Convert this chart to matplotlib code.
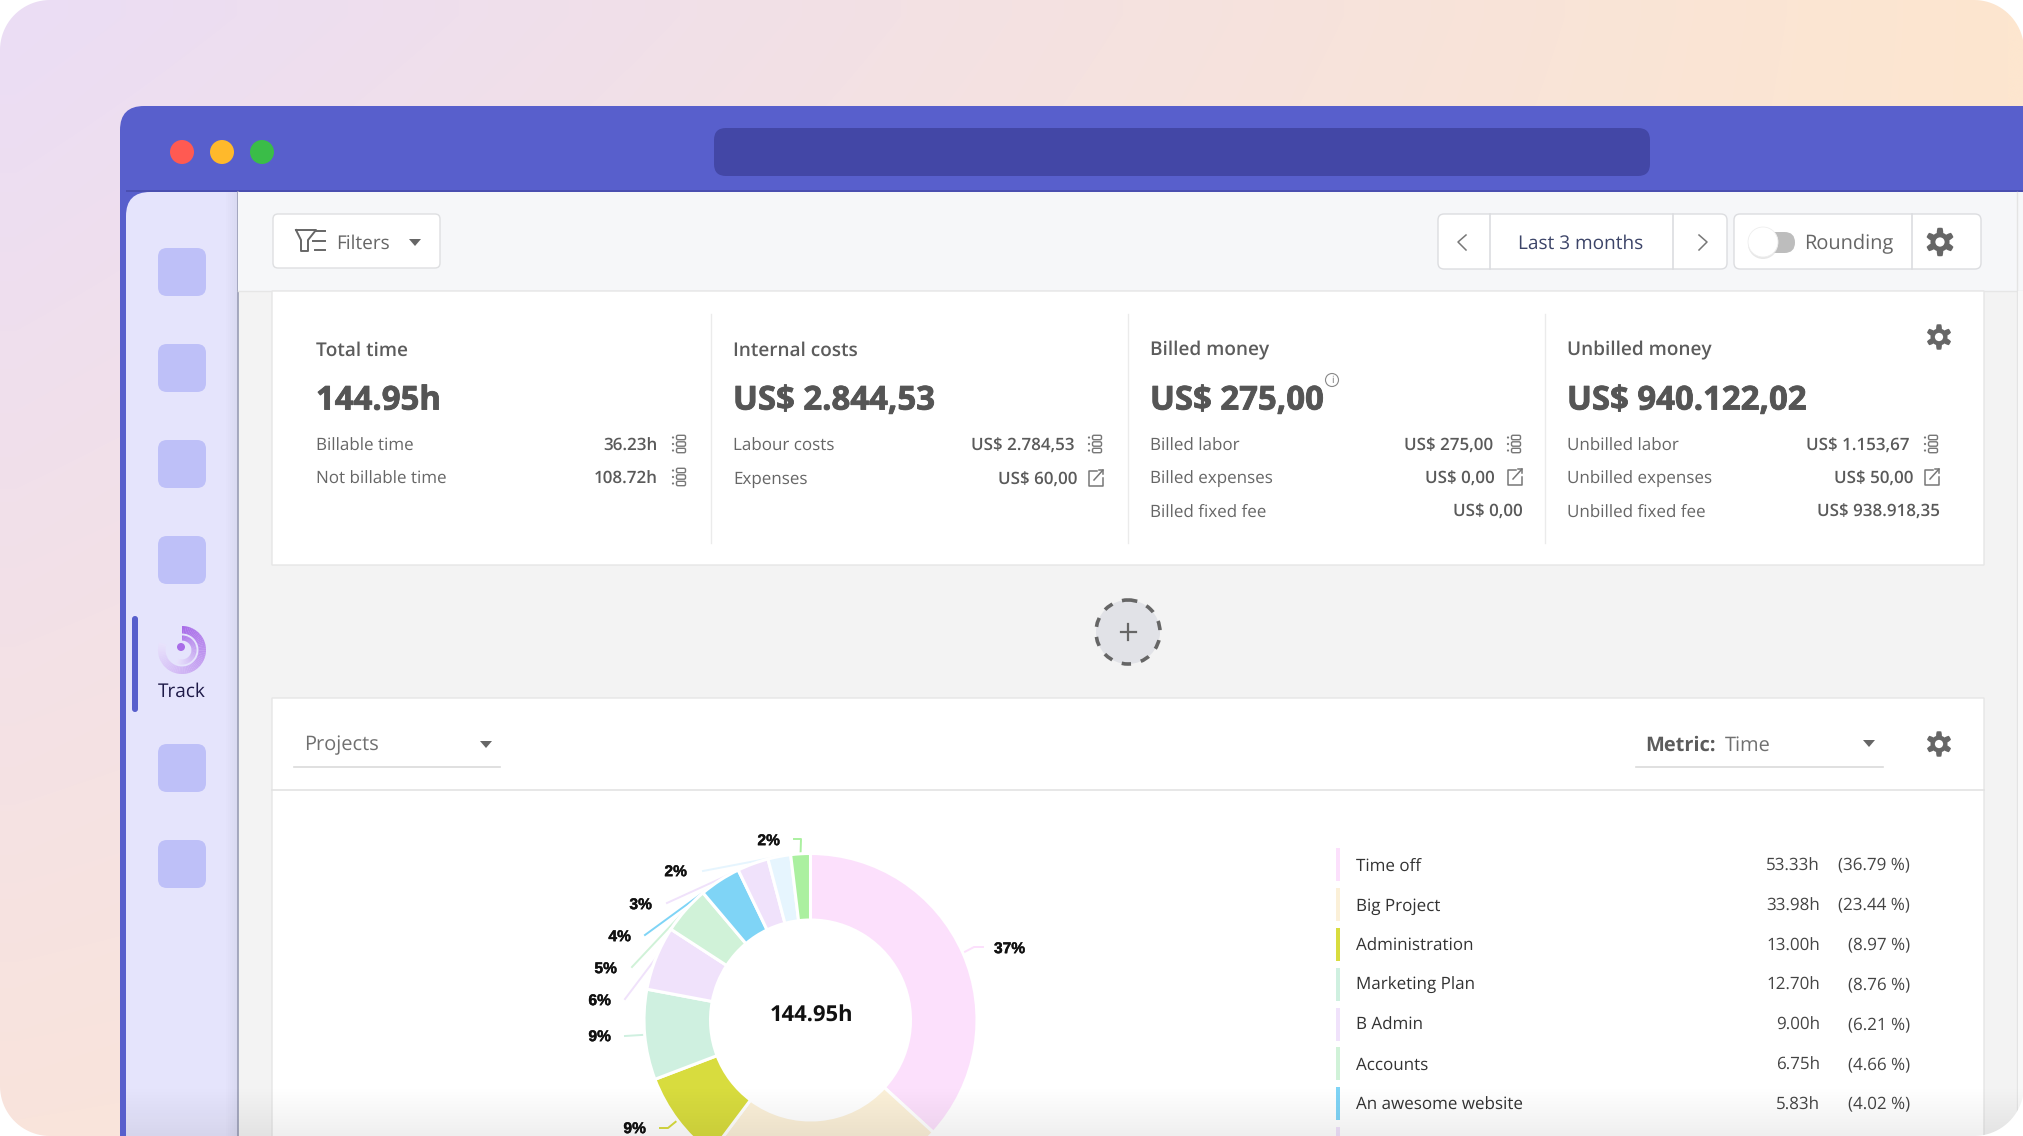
import numpy as np
import matplotlib
matplotlib.use("Agg")
import matplotlib.pyplot as plt
import matplotlib.patheffects as pe
from matplotlib.patches import FancyBboxPatch, Circle, Rectangle, Polygon, Wedge
from matplotlib.colors import to_rgb

W, H = 2024, 1136

# chart data
projects = ["Time off", "Big Project", "Administration", "Marketing Plan", "B Admin",
            "Accounts", "An awesome website", "Website", "Research", "Design"]
hours = [53.33, 33.98, 13.00, 12.70, 9.00, 6.75, 5.83, 4.40, 3.20, 2.76]
hour_labels = ["53.33h", "33.98h", "13.00h", "12.70h", "9.00h", "6.75h", "5.83h"]
pct_labels = ["(36.79 %)", "(23.44 %)", "(8.97 %)", "(8.76 %)", "(6.21 %)", "(4.66 %)", "(4.02 %)"]
slice_colors = ["#FCE0FC", "#FBF0D8", "#D8DC3E", "#CFF0E0", "#F0E2FB",
                "#D0F2D8", "#7FD4F6", "#F0E2FB", "#E6F5FE", "#ABF0A0"]
slice_pct = ["37%", "23%", "9%", "9%", "6%", "5%", "4%", "3%", "2%", "2%"]
total = "144.95h"

# KPI cards
card_titles = ["Total time", "Internal costs", "Billed money", "Unbilled money"]
card_totals = ["144.95h", "US$ 2.844,53", "US$ 275,00", "US$ 940.122,02"]
card_names = [["Billable time", "Not billable time"],
              ["Labour costs", "Expenses"],
              ["Billed labor", "Billed expenses", "Billed fixed fee"],
              ["Unbilled labor", "Unbilled expenses", "Unbilled fixed fee"]]
card_values = [["36.23h", "108.72h"],
               ["US$ 2.784,53", "US$ 60,00"],
               ["US$ 275,00", "US$ 0,00", "US$ 0,00"],
               ["US$ 1.153,67", "US$ 50,00", "US$ 938.918,35"]]

# layout of the pie labels and their leader lines, in pixels
label_xy = [(1010, 949), None, (635, 1129), (600, 1037), (600, 1001),
            (606, 969), (620, 937), (641, 905), (676, 872), (769, 841)]
leader_pts = [[(974, 947), (983, 947)], None, [(668, 1128), (660, 1128)], [(625, 1036)],
              [(625, 999)], [(632, 967)], [(645, 935)], [(667, 903)], [(703, 871)],
              [(801, 839), (794, 839)]]

plt.rcParams["font.family"] = ["Open Sans", "DejaVu Sans"]
plt.rcParams["text.hinting"] = "none"
plt.rcParams["text.hinting_factor"] = 1
fig = plt.figure(figsize=(W / 100, H / 100), dpi=100)
ax = fig.add_axes([0, 0, 1, 1])


def box(x0, y0, x1, y1, fc, ec="none", r=0, lw=1.0, z=1):
    p = FancyBboxPatch((x0, y0), x1 - x0, y1 - y0, boxstyle="round,pad=0,rounding_size=%g" % r,
                       fc=fc, ec=ec, lw=lw, zorder=z)
    ax.add_patch(p)
    return p


def txt(x, y, s, size=13, color="#666666", ha="left", weight="normal", z=5, thick=0):
    t = ax.text(x, y + 2, s, fontsize=size, color=color, ha=ha, va="center", weight=weight, zorder=z)
    if thick:
        t.set_path_effects([pe.withStroke(linewidth=thick, foreground=color)])


def gear(cx, cy, R, color="#666666", hole="white", z=5):
    a = np.linspace(0, 2 * np.pi, 181)
    r = R * (0.85 + 0.17 * np.clip(2.0 * np.cos(6 * (a + np.pi / 2)), -1, 1))
    ax.add_patch(Polygon(np.c_[cx + r * np.cos(a), cy + r * np.sin(a)], fc=color, ec="none", zorder=z))
    ax.add_patch(Circle((cx, cy), R * 0.33, fc=hole, ec="none", zorder=z + 0.1))


def caret(cx, cy, color="#666666"):
    ax.add_patch(Polygon([(cx - 6, cy - 3), (cx + 6, cy - 3), (cx, cy + 4)], fc=color, ec="none", zorder=5))


def list_icon(cx, cy):
    # three dots and three small pills
    cx = cx - 1.5
    for dy in (-6.5, 0, 6.5):
        ax.add_patch(Circle((cx - 5.5, cy + dy), 1.1, fc="#777777", ec="none", zorder=5))
        box(cx - 2, cy + dy - 2.2, cx + 7, cy + dy + 2.2, "white", "#777777", 1.5, 1.0, 5)


def link_icon(cx, cy):
    ax.plot([cx + 1, cx - 7, cx - 7, cx + 7, cx + 7], [cy - 7, cy - 7, cy + 8, cy + 8, cy],
            color="#777777", lw=1.1, zorder=5)
    ax.plot([cx - 2, cx + 7], [cy + 2, cy - 8], color="#777777", lw=1.1, zorder=5)
    ax.plot([cx + 3, cx + 7, cx + 7], [cy - 8, cy - 8, cy - 4], color="#777777", lw=1.1, zorder=5)


# page background
tl, tr, bl, br = [np.array(to_rgb(c)) for c in ("#EBDDF5", "#FDE6CF", "#F9E4DC", "#FDE6CF")]
u, v = np.meshgrid(np.linspace(0, 1, 64), np.linspace(0, 1, 36))
grad = ((1 - u) * (1 - v))[..., None] * tl + (u * (1 - v))[..., None] * tr \
    + ((1 - u) * v)[..., None] * bl + (u * v)[..., None] * br
ax.imshow(grad, extent=(0, W, H, 0), aspect="auto", interpolation="bilinear", zorder=0)

# browser window
box(120, 106, W + 100, H + 100, "#585FCC", r=24, z=1)
ax.add_patch(Rectangle((126, 190), W, 2, fc="#4A4FB0", ec="none", zorder=1.1))
for x, c in zip((182, 222, 262), ("#FF5A52", "#FFB92B", "#3ABD48")):
    ax.add_patch(Circle((x, 152), 12, fc=c, ec="none", zorder=2))
box(714, 128, 1650, 176, "#4347A6", r=12, z=2)

# sidebar
box(126, 192, 300, H + 100, "#E5E4FC", r=24, z=2)
ax.add_patch(Rectangle((238, 192), W, H, fc="#F3F3F3", ec="none", zorder=2.1))
for i, x in enumerate(np.arange(226, 238, 2)):
    ax.add_patch(Rectangle((x, 192), 2, H, fc="#8A8CA8", alpha=0.02 + 0.02 * i, ec="none", zorder=2.1))
ax.plot([238, 238], [192, H], color="#9A9DB5", lw=1.2, zorder=2.2)
for y in (248, 344, 440, 536, 744, 840):
    box(158, y, 206, y + 48, "#BEC0F8", r=9, z=3)
box(132, 616, 138, 712, "#585FCC", r=3, z=3)

# track icon, rings fade along their length
for i in range(60):
    f = i / 60
    c = np.array(to_rgb("#A96DE8")) * (1 - f) + np.array(to_rgb("#E9E4FC")) * f
    ax.add_patch(Wedge((182, 650), 24, -90 + 4.8 * i, -90 + 4.8 * (i + 1) + 0.5, width=7.5, fc=c, ec="none", zorder=3))
    ax.add_patch(Wedge((182, 650), 14.5, -90 + 3.4 * i, -90 + 3.4 * (i + 1) + 0.5, width=5, fc=c, ec="none", zorder=3))
ax.add_patch(Circle((181, 647), 4, fc="#A96DE8", ec="none", zorder=3.1))
txt(182, 690, "Track", 13.6, "#1E1A48", ha="center", z=3)

# toolbar
ax.add_patch(Rectangle((238, 192), W, 99, fc="#F6F7F9", ec="none", zorder=2.3))
ax.plot([238, W], [291, 291], color="#E6E6E6", lw=1, zorder=2.4)
ax.plot([2017, 2017], [192, H], color="#E4E4E4", lw=1, zorder=2.4)
ax.add_patch(Rectangle((2018, 291), 10, H, fc="#F8F8F8", ec="none", zorder=2.4))
box(273, 214, 440, 268, "white", "#DEDFE1", r=5, z=3)
ax.plot([296, 316, 308, 308, 301, 301, 296], [230, 230, 240, 251, 251, 240, 230], color="#666666", lw=1.4, zorder=5)
for x0, y in ((315, 231), (313, 241), (315, 250)):
    ax.plot([x0, 325], [y, y], color="#666666", lw=1.4, zorder=5)
txt(336, 241.5, "Filters", 14, "#666666")
caret(415, 242)

box(1438, 214, 1727, 269, "white", "#DCDDE0", r=6, z=3)
ax.plot([1490, 1490], [214, 269], color="#DCDDE0", lw=1.2, zorder=4)
ax.plot([1673, 1673], [214, 269], color="#DCDDE0", lw=1.2, zorder=4)
ax.plot([1466, 1458, 1466], [235, 242, 250], color="#777777", lw=1.1, zorder=5)
ax.plot([1699, 1707, 1699], [235, 242, 250], color="#777777", lw=1.1, zorder=5)
txt(1581, 241.5, "Last 3 months", 13.8, "#3C4468", ha="center")
box(1734, 214, 1981, 269, "white", "#DCDDE0", r=6, z=3)
ax.plot([1912, 1912], [214, 269], color="#DCDDE0", lw=1.2, zorder=4)
box(1755, 232, 1795, 253, "#BDBDBD", r=10.5, z=4)
ax.add_patch(Circle((1763, 244), 15, fc="#DDDDDD", ec="none", alpha=0.7, zorder=4.1))
ax.add_patch(Circle((1763, 242), 15, fc="white", ec="#EEEEEE", lw=0.6, zorder=4.2))
txt(1804, 241.5, "Rounding", 14.1, "#666666")
gear(1940, 242, 14)

# KPI card
box(272, 291, 1984, 565, "white", "#E6E6E6", z=3)
card_x = [316, 733, 1150, 1567]
value_right = [[658, 658], [1075, 1077], [1493, 1495, 1523], [1910, 1913, 1940]]
icon_x = [680, 1096, 1515, 1932]
row_y = [[444, 477], [444, 478], [444, 477, 510], [444, 477, 510]]
icons = [["l", "l"], ["l", "e"], ["l", "e", None], ["l", "e", None]]
for x in (711, 1128, 1545):
    ax.plot([x, x], [314, 543], color="#EBEBEB", lw=1, zorder=4)
for i in range(4):
    txt(card_x[i], 349, card_titles[i], 13.6, "#5C5C5C", weight="semibold")
    txt(card_x[i], 399, card_totals[i], 23.7, "#555555", weight="bold", thick=0.6)
    for j in range(len(card_names[i])):
        txt(card_x[i], row_y[i][j], card_names[i][j], 12.0, "#666666")
        txt(value_right[i][j], row_y[i][j], card_values[i][j], 12.1, "#5A5A5A", ha="right", weight="semibold")
        if icons[i][j] == "l":
            list_icon(icon_x[i], row_y[i][j])
        elif icons[i][j] == "e":
            link_icon(icon_x[i], row_y[i][j])
ax.add_patch(Circle((1332, 380), 6.5, fc="white", ec="#888888", lw=0.8, zorder=5))
ax.text(1332, 380, "i", fontsize=7, color="#777777", ha="center", va="center", zorder=5.1)
gear(1939, 337, 12.5)

# add widget button
ax.add_patch(Circle((1128, 632), 32, fc="#E1E2E7", ec="#666666", lw=2.6, ls=(0, (2.6, 2.8)), zorder=3))
ax.plot([1121, 1136], [632, 632], color="#666666", lw=1.6, zorder=4)
ax.plot([1128.5, 1128.5], [624, 640], color="#666666", lw=1.6, zorder=4)

# projects card
box(272, 698, 1984, H + 50, "white", "#E6E6E6", z=3)
ax.plot([272, 1984], [789.5, 789.5], color="#E3E3E3", lw=1.2, zorder=4)
txt(304, 743.5, "Projects", 14.2, "#707070")
ax.plot([294, 500], [767, 767], color="#DADADA", lw=1.2, zorder=4)
caret(486, 744)
txt(1645, 743.5, "Metric:", 14.2, "#5C5C5C", weight="bold")
txt(1725, 743.5, "Time", 14.2, "#707070")
ax.plot([1636, 1883], [767, 767], color="#DADADA", lw=1.2, zorder=4)
caret(1869, 743)
gear(1939, 744, 12.5)

# donut
cx, cy, R = 810.5, 1020, 166.5
wedges, _ = ax.pie(hours, colors=slice_colors, center=(cx, cy), radius=R, startangle=-90,
                   counterclock=True, frame=True,
                   wedgeprops=dict(width=66.5, edgecolor="white", linewidth=2.2, zorder=4))
for w in wedges:
    w.set_zorder(4)
for k, w in enumerate(wedges):
    if label_xy[k] is None:
        continue
    a = np.deg2rad((w.theta1 + w.theta2) / 2)
    xs = [cx + R * np.cos(a)] + [p[0] for p in leader_pts[k]]
    ys = [cy + R * np.sin(a)] + [p[1] for p in leader_pts[k]]
    ax.plot(xs, ys, color=slice_colors[k], lw=1.4, zorder=3.9)
    t = ax.text(label_xy[k][0], label_xy[k][1], slice_pct[k], fontsize=11.2, weight="bold", color="#111111",
                family="Liberation Sans", ha="center", va="center", zorder=5)
    t.set_path_effects([pe.withStroke(linewidth=0.3, foreground="#111111")])
txt(811, 1014, total, 16, "#111111", ha="center", weight="bold")

# legend
for k in range(8):
    yc = 864.7 + 39.85 * k
    ax.add_patch(Rectangle((1336, yc - 16.5), 4, 33, fc=slice_colors[k], ec="none", zorder=4))
    if k < len(hour_labels):
        txt(1356, yc - 0.5, projects[k], 11.9, "#333333")
        txt(1820, yc - 0.5, hour_labels[k], 11.9, "#444444", ha="right")
        txt(1910, yc - 0.5, pct_labels[k], 11.9, "#444444", ha="right")

# fade at the bottom edge
fade = np.zeros((32, 2, 4))
fade[..., 3] = np.linspace(0, 0.065, 32)[:, None]
ax.imshow(fade, extent=(126, W, H, 1085), aspect="auto", interpolation="bilinear", zorder=6)

# white rounded outer corners
rc = 50
t = np.linspace(0, np.pi / 2, 24)
for sx, sy, px, py in ((1, 1, 0, 0), (-1, 1, W, 0), (1, -1, 0, H), (-1, -1, W, H)):
    arc = np.c_[px + sx * (rc - rc * np.cos(t)), py + sy * (rc - rc * np.sin(t))]
    ax.add_patch(Polygon(np.vstack([[px, py], arc]), fc="white", ec="none", zorder=7))

ax.set_xlim(0, W)
ax.set_ylim(H, 0)
ax.set_aspect("auto")
ax.axis("off")
fig.savefig("out.png", dpi=100)
